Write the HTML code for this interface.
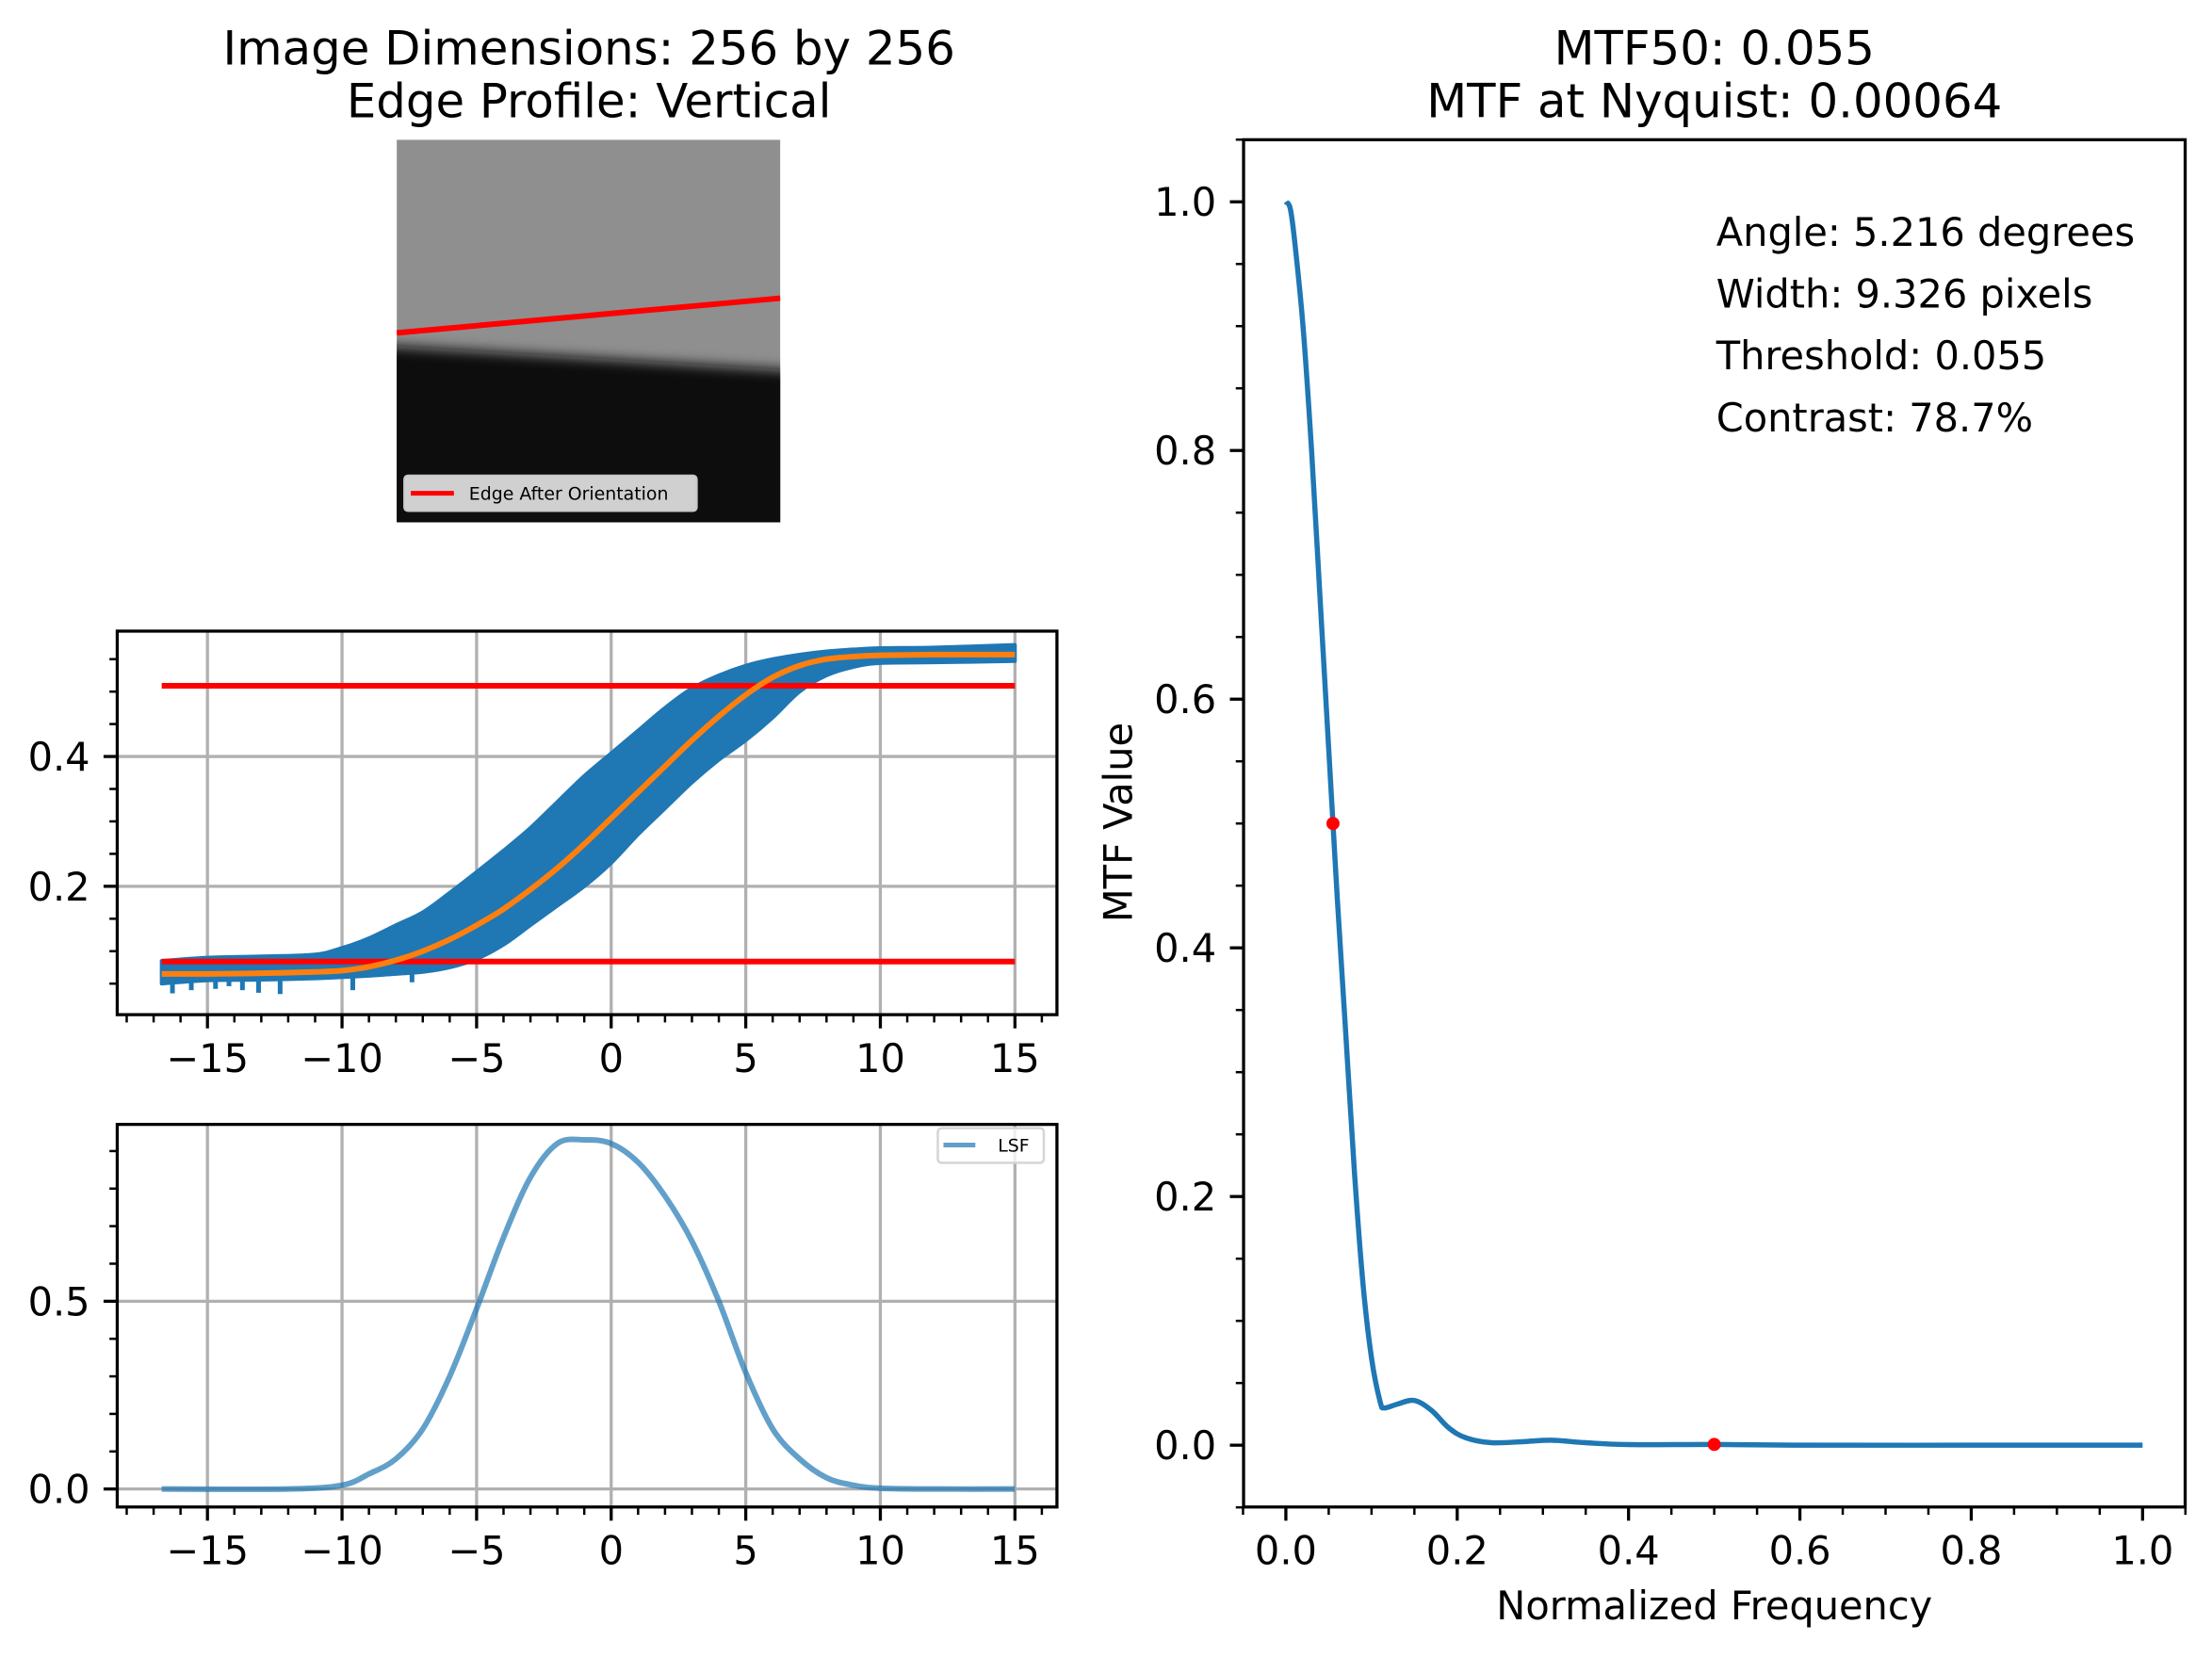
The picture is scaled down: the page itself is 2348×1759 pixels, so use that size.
<!DOCTYPE html>
<html><head><meta charset="utf-8"><style>
html,body{margin:0;padding:0;background:#fff;}
svg{display:block;font-family:"DejaVu Sans","Liberation Sans",sans-serif;}
</style></head><body>
<svg id="fig" width="2348" height="1759" viewBox="0 0 2348 1759" xmlns="http://www.w3.org/2000/svg">
<defs>
<clipPath id="imgclip"><rect x="423" y="149" width="409" height="408"/></clipPath>
<filter id="blur"><feGaussianBlur stdDeviation="7"/></filter>
<clipPath id="esfclip"><rect x="125" y="673" width="1002" height="409"/></clipPath>
<clipPath id="lsfclip"><rect x="125" y="1199" width="1002" height="408"/></clipPath>
<clipPath id="mtfclip"><rect x="1326" y="149" width="1004" height="1458"/></clipPath>
</defs>
<g id="root" transform="scale(0.9955)">
<g id="imgpanel">
<g clip-path="url(#imgclip)">
<rect x="423" y="149" width="409" height="408" fill="#8f8f8f"/>
<polygon points="400,368 860,396 860,600 400,600" fill="#111" filter="url(#blur)"/>
<line x1="423" y1="355" x2="832" y2="318" stroke="#ff0000" stroke-width="6"/>
</g>
<g>
<rect x="431" y="507" width="312" height="38" rx="4" fill="#d0d0d0" stroke="#c8c8c8" stroke-width="2"/>
<line x1="438" y1="526" x2="484" y2="526" stroke="#ff0000" stroke-width="5"/>
<text x="500" y="533" font-size="19" fill="#000">Edge After Orientation</text>
</g>
</g>
<text x="628" y="69" font-size="50" text-anchor="middle">Image Dimensions: 256 by 256</text>
<text x="628" y="125" font-size="50" text-anchor="middle">Edge Profile: Vertical</text>
<text x="1828" y="69" font-size="50" text-anchor="middle">MTF50: 0.055</text>
<text x="1828" y="125" font-size="50" text-anchor="middle">MTF at Nyquist: 0.00064</text>
<g id="esf"></g>
<g id="lsf"></g>
<g id="mtf"></g>
</g>
</svg>
<script>
// ESF data
const esfX = [-16.7,-15,-13,-11,-10,-9,-8,-7,-6,-5,-4,-3,-2,-1,0,1,2,3,4,5,6,7,8,9,10,12,15];
const esfFit = [0.065,0.065,0.066,0.068,0.070,0.076,0.086,0.100,0.118,0.140,0.165,0.195,0.228,0.265,0.305,0.345,0.385,0.425,0.462,0.495,0.522,0.540,0.550,0.554,0.556,0.557,0.557];
const esfUpper = [0.085,0.090,0.092,0.095,0.105,0.120,0.140,0.160,0.190,0.222,0.255,0.290,0.330,0.370,0.405,0.440,0.475,0.505,0.525,0.540,0.550,0.557,0.562,0.565,0.567,0.568,0.572];
const esfLower = [0.050,0.055,0.056,0.058,0.060,0.062,0.065,0.068,0.075,0.088,0.110,0.140,0.170,0.200,0.236,0.280,0.320,0.360,0.395,0.425,0.460,0.500,0.525,0.538,0.544,0.545,0.547];
const spikeX = [-16.3,-15.6,-14.7,-14.2,-13.7,-13.1,-12.3,-9.6,-7.4];
const spikeY = [0.035,0.040,0.042,0.046,0.040,0.036,0.034,0.040,0.052];
const thresholds = [0.509,0.084];
const esfXTicks = [-15,-10,-5,0,5,10,15];
const esfXLabels = ["\u221215","\u221210","\u22125","0","5","10","15"];
const esfYTicks = [0.2,0.4];
const esfYLabels = ["0.2","0.4"];
// LSF data
const lsfX = [-16.7,-12,-10,-9,-8,-7,-6,-5,-4,-3,-2,-1,0,1,2,3,4,5,6,7,8,9,10,12,15];
const lsfY = [0,0,0.01,0.04,0.08,0.16,0.30,0.48,0.67,0.83,0.92,0.93,0.92,0.87,0.78,0.66,0.50,0.31,0.16,0.08,0.03,0.01,0.002,0,0];
const lsfYTicks = [0.0,0.5];
const lsfYLabels = ["0.0","0.5"];
// MTF data
const mtfX = [0,0.005,0.01,0.02,0.03,0.04,0.05,0.055,0.06,0.07,0.08,0.09,0.1,0.11,0.115,0.13,0.15,0.17,0.19,0.21,0.24,0.28,0.31,0.35,0.4,0.5,0.6,0.8,1.0];
const mtfY = [1.0,0.995,0.97,0.9,0.8,0.68,0.56,0.5,0.44,0.33,0.22,0.13,0.07,0.035,0.03,0.033,0.036,0.028,0.014,0.006,0.002,0.003,0.004,0.002,0.0005,0.0006,0,0,0];
const mtfPointsX = [0.055,0.5];
const mtfPointsY = [0.5,0.00064];
const mtfXTicks = [0,0.2,0.4,0.6,0.8,1.0];
const mtfXLabels = ["0.0","0.2","0.4","0.6","0.8","1.0"];
const mtfYTicks = [0,0.2,0.4,0.6,0.8,1.0];
const mtfYLabels = ["0.0","0.2","0.4","0.6","0.8","1.0"];
const annotations = ["Angle: 5.216 degrees","Width: 9.326 pixels","Threshold: 0.055","Contrast: 78.7%"];

const NS="http://www.w3.org/2000/svg";
function mk(parent,tag,attrs){const e=document.createElementNS(NS,tag);for(const k in attrs)e.setAttribute(k,attrs[k]);parent.appendChild(e);return e;}
function smooth(pts){let d="M"+pts[0][0]+","+pts[0][1];for(let i=0;i<pts.length-1;i++){const p0=pts[Math.max(0,i-1)],p1=pts[i],p2=pts[i+1],p3=pts[Math.min(pts.length-1,i+2)];const c1=[p1[0]+(p2[0]-p0[0])/6,p1[1]+(p2[1]-p0[1])/6],c2=[p2[0]-(p3[0]-p1[0])/6,p2[1]-(p3[1]-p1[1])/6];d+=" C"+c1[0]+","+c1[1]+" "+c2[0]+","+c2[1]+" "+p2[0]+","+p2[1];}return d;}
function range(a,b,s){const r=[];for(let v=a;v<=b+1e-9;v+=s)r.push(Math.round(v*1000)/1000);return r;}

function axes(g,box,sx,sy,opt){
  if(opt.grid){
    opt.xt.forEach(v=>{const l=mk(g,'line',{x1:sx(v),x2:sx(v),y1:box.t,y2:box.b,stroke:'#b0b0b0','stroke-width':3.3});});
    opt.yt.forEach(v=>{const l=mk(g,'line',{x1:box.l,x2:box.r,y1:sy(v),y2:sy(v),stroke:'#b0b0b0','stroke-width':3.3});});
  }
}
function frame(g,box,sx,sy,opt){
  const r=mk(g,'rect',{x:box.l,y:box.t,width:box.r-box.l,height:box.b-box.t,fill:'none',stroke:'#000','stroke-width':3.3});
  
  
  opt.xm.forEach(v=>{const x=sx(v);if(x<box.l-1||x>box.r+1)return;mk(g,'line',{x1:x,x2:x,y1:box.b,y2:box.b+8.3,stroke:'#000','stroke-width':2.5});});
  opt.ym.forEach(v=>{const y=sy(v);if(y<box.t-1||y>box.b+1)return;mk(g,'line',{x1:box.l,x2:box.l-8.3,y1:y,y2:y,stroke:'#000','stroke-width':2.5});});
  opt.xt.forEach((v,i)=>{const x=sx(v);mk(g,'line',{x1:x,x2:x,y1:box.b,y2:box.b+14.6,stroke:'#000','stroke-width':3.3});
    const t=mk(g,'text',{x:x,y:box.b+29+32,'font-size':41.7,'text-anchor':'middle'});t.textContent=opt.xl[i];
    
    });
  opt.yt.forEach((v,i)=>{const y=sy(v);mk(g,'line',{x1:box.l,x2:box.l-14.6,y1:y,y2:y,stroke:'#000','stroke-width':3.3});
    const t=mk(g,'text',{x:box.l-29,y:y+15,'font-size':41.7,'text-anchor':'end'});t.textContent=opt.yl[i];
    
    });
}

// ESF
(function(){
  const g=document.getElementById('esf');
  const box={l:125,r:1127,t:673,b:1082};
  const sx=v=>651.7+v*28.70, sy=v=>1083.5-v*692;
  const opt={grid:true,xt:esfXTicks,xl:esfXLabels,yt:esfYTicks,yl:esfYLabels,xm:range(-18,16,1),ym:range(0.05,0.55,0.05)};
  axes(g,box,sx,sy,opt);
  const c=mk(g,'g',{'clip-path':'url(#esfclip)'});
  const up=esfX.map((x,i)=>[sx(x),sy(esfUpper[i])]);
  const lo=esfX.map((x,i)=>[sx(x),sy(esfLower[i])]).reverse();
  const band=mk(c,'path',{d:smooth(up)+" L"+smooth(lo).slice(1)+" Z",fill:'#1f77b4',stroke:'#1f77b4','stroke-width':4,'stroke-linejoin':'round'});
  
  
  spikeX.forEach((x,i)=>{const s=mk(c,'line',{x1:sx(x),x2:sx(x),y1:sy(0.065),y2:sy(spikeY[i]),stroke:'#1f77b4','stroke-width':5});
    
    });
  thresholds.forEach(v=>{const l=mk(c,'line',{x1:sx(-16.7),x2:sx(15),y1:sy(v),y2:sy(v),stroke:'#ff0000','stroke-width':6});
    
    });
  const fit=mk(c,'path',{d:smooth(esfX.map((x,i)=>[sx(x),sy(esfFit[i])])),fill:'none',stroke:'#ff7f0e','stroke-width':6});
  
  
  frame(g,box,sx,sy,opt);
})();

// LSF
(function(){
  const g=document.getElementById('lsf');
  const box={l:125,r:1127,t:1199,b:1607};
  const sx=v=>651.7+v*28.70, sy=v=>1587.8-v*400.4;
  const opt={grid:true,xt:esfXTicks,xl:esfXLabels,yt:lsfYTicks,yl:lsfYLabels,xm:range(-18,16,1),ym:range(0.1,0.9,0.1)};
  axes(g,box,sx,sy,opt);
  const c=mk(g,'g',{'clip-path':'url(#lsfclip)'});
  const p=mk(c,'path',{d:smooth(lsfX.map((x,i)=>[sx(x),sy(lsfY[i])])),fill:'none',stroke:'#1f77b4','stroke-opacity':0.7,'stroke-width':6});
  
  
  frame(g,box,sx,sy,opt);
  const lg=mk(g,'g',{});
  
  
  mk(lg,'rect',{x:1000,y:1203,width:113,height:37,rx:4,fill:'#fff','fill-opacity':0.8,stroke:'#d5d5d5','stroke-width':2.5});
  mk(lg,'line',{x1:1006,x2:1040,y1:1221,y2:1221,stroke:'#1f77b4','stroke-opacity':0.7,'stroke-width':5});
  const t=mk(lg,'text',{x:1064,y:1228,'font-size':19});t.textContent='LSF';
})();

// MTF
(function(){
  const g=document.getElementById('mtf');
  const box={l:1326,r:2330,t:149,b:1607};
  const sx=v=>1371.1+v*913.5, sy=v=>1541.1-v*1325.9;
  const opt={grid:false,xt:mtfXTicks,xl:mtfXLabels,yt:mtfYTicks,yl:mtfYLabels,xm:range(-0.05,1.05,0.05),ym:range(-0.05,1.05,0.05)};
  const c=mk(g,'g',{'clip-path':'url(#mtfclip)'});
  const p=mk(c,'path',{d:smooth(mtfX.map((x,i)=>[sx(x),sy(mtfY[i])])),fill:'none',stroke:'#1f77b4','stroke-width':5.5,'stroke-linejoin':'round'});
  
  
  mtfPointsX.forEach((x,i)=>{const d=mk(c,'circle',{cx:sx(x),cy:sy(mtfPointsY[i]),r:7,fill:'#ff0000'});
    
    });
  frame(g,box,sx,sy,opt);
  annotations.forEach((s,i)=>{const t=mk(g,'text',{x:1830,y:262+i*66,'font-size':41.7});t.textContent=s;
    
    });
  const xl=mk(g,'text',{x:1828,y:1727,'font-size':41.7,'text-anchor':'middle'});xl.textContent='Normalized Frequency';
  
  
  const yl=mk(g,'text',{x:0,y:0,'font-size':41.7,'text-anchor':'middle',transform:'translate(1207,877) rotate(-90)'});yl.textContent='MTF Value';
  
  
})();
</script>
</body></html>
